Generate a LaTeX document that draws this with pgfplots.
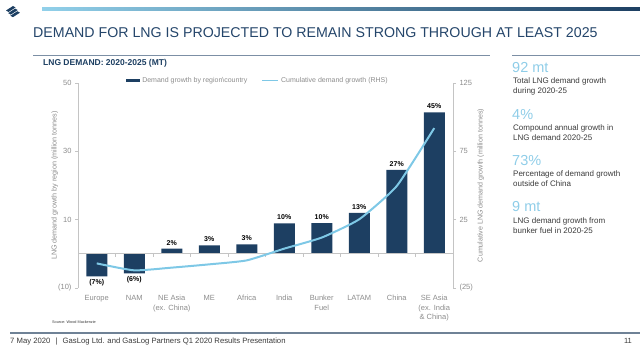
\documentclass[border=0pt]{standalone}
\usepackage{pgfplots}
\pgfplotsset{compat=1.18}
\usepackage{fontspec}
\setmainfont{Liberation Sans}
\definecolor{navy}{HTML}{1D3F62}
\definecolor{lblue}{HTML}{7EC8E6}
\definecolor{axgray}{HTML}{C4C4C4}
\definecolor{tgray}{HTML}{8C8C8C}
\definecolor{titleblue}{HTML}{24456A}
\definecolor{bignum}{HTML}{8FCDE8}
\definecolor{dtext}{HTML}{3A3A3A}
\definecolor{footline}{HTML}{6F8296}

\pgfplotstableread{
x  y     lab
2  1.5   {2\%}
3  2.5   {3\%}
4  2.8   {3\%}
5  8.9   {10\%}
6  9.0   {10\%}
7  12.0  {13\%}
8  24.6  {27\%}
9  41.4  {45\%}
}\posbars
\pgfplotstableread{
x  y     lab
0  -6.6  {(7\%)}
1  -5.7  {(6\%)}
}\negbars

\newcommand{\rtext}[2]{\node[anchor=base west, inner sep=0pt, text=dtext, font=\fontsize{8}{10}\selectfont] at (513,#1) {#2};}
\newcommand{\btext}[2]{\node[anchor=base west, inner sep=0pt, text=bignum, font=\fontsize{14.5}{16}\selectfont] at (512,#1) {#2};}

\begin{document}
\begin{tikzpicture}[x=1pt,y=1pt]
\useasboundingbox (0,0) rectangle (640,350);
% logo
\foreach \i in {0,1,2} {
  \fill[navy] ({6+2.2*\i},{339.5-2.6*\i}) -- ({13+2.2*\i},{344-2.6*\i}) -- ({15.5+2.2*\i},{342.5-2.6*\i}) -- ({8.5+2.2*\i},{338-2.6*\i}) -- cycle;
}
% header gradient bar
\shade[left color=lblue!85, right color=navy] (42,339) rectangle (640,342);
% title
\node[anchor=base west, inner sep=0pt, text=titleblue, font=\fontsize{14.2}{16}\selectfont] at (33,312) {DEMAND FOR LNG IS PROJECTED TO REMAIN STRONG THROUGH AT LEAST 2025};
\draw[titleblue!60, line width=0.6pt] (33,295) -- (490,295);
\draw[titleblue!60, line width=0.6pt] (512,295) -- (640,295);
% subtitle
\node[anchor=base west, inner sep=0pt, text=navy, font=\bfseries\fontsize{8.5}{10}\selectfont] at (43,284) {LNG DEMAND: 2020-2025 (MT)};

% right panel
\btext{277.3}{92 mt}
\rtext{266}{Total LNG demand growth}
\rtext{256}{during 2020-25}
\btext{230}{4\%}
\rtext{219.4}{Compound annual growth in}
\rtext{209.4}{LNG demand 2020-25}
\btext{184}{73\%}
\rtext{173}{Percentage of demand growth}
\rtext{163}{outside of China}
\btext{138.3}{9 mt}
\rtext{126.4}{LNG demand growth from}
\rtext{116.4}{bunker fuel in 2020-25}

% footer
\node[anchor=base west, inner sep=0pt, text=dtext, font=\fontsize{3.8}{4}\selectfont] at (52,26) {Source: Wood Mackenzie};
\draw[footline, line width=1.3pt] (10,17) -- (640,17);
\node[anchor=base west, inner sep=0pt, text=dtext, font=\fontsize{7.7}{9}\selectfont] at (10,6) {7 May 2020\enspace\,|\enspace\,GasLog Ltd. and GasLog Partners Q1 2020 Results Presentation};
\node[anchor=base east, inner sep=0pt, text=dtext, font=\fontsize{7.5}{9}\selectfont] at (632,6) {11};

% ---------- bar axis (left) ----------
\begin{axis}[
  at={(78pt,62pt)}, anchor=south west, scale only axis,
  width=375pt, height=205pt,
  xmin=-0.5, xmax=9.5, ymin=-10, ymax=50,
  ytick={-10,10,30,50}, yticklabels={(10),10,30,50},
  xtick={0,...,9},
  xticklabels={Europe,NAM,{NE Asia\\(ex. China)},ME,Africa,India,{Bunker\\Fuel},LATAM,China,{SE Asia\\(ex. India\\\& China)}},
  separate axis lines,
  x axis line style={draw=none},
  axis y line*=left,
  y axis line style={axgray, line width=0.8pt, -},
  xtick style={draw=none},
  ytick style={axgray, line width=0.6pt},
  tick align=outside, major tick length=3pt,
  tick label style={font=\fontsize{7.5}{9.5}\selectfont, text=tgray},
  xticklabel style={align=center, anchor=north, yshift=-1pt},
  /pgf/number format/assume math mode=true,
  every axis y label/.style={at={(axis description cs:-0.062,0.5)}, rotate=90, anchor=center, font=\fontsize{7.2}{8}\selectfont, text=tgray},
  ylabel={LNG demand growth by region (million tonnes)},
  ybar, bar width=21pt, bar shift=0pt,
  nodes near coords,
  point meta=explicit symbolic,
  every node near coord/.append style={font=\bfseries\fontsize{7}{8}\selectfont, text=black},
  clip=false,
  legend columns=2,
  legend style={draw=none, fill=none, at={(axis description cs:0.48,1.012)}, anchor=center,
    font=\fontsize{7}{8}\selectfont, text=tgray,
    /tikz/every even column/.append style={column sep=12pt}},
]
\addplot[fill=navy, draw=none,
  legend image code/.code={\fill[navy] (0pt,-1.6pt) rectangle (14pt,1.6pt);}]
  table[x=x, y=y, meta=lab] {\posbars};
\addlegendentry{Demand growth by region\textbackslash country}
\addlegendimage{legend image code/.code={\draw[lblue, line width=1.8pt] (0pt,0pt) -- (16pt,0pt);}}
\addlegendentry{Cumulative demand growth (RHS)}
\addplot[fill=navy, draw=none, forget plot,
  every node near coord/.append style={anchor=north}]
  table[x=x, y=y, meta=lab] {\negbars};
\draw[axgray, line width=0.8pt] (axis cs:-0.5,0) -- (axis cs:9.5,0);
\pgfplotsinvokeforeach{0.5,1.5,2.5,3.5,4.5,5.5,6.5,7.5,8.5}{
  \draw[axgray, line width=0.6pt] (axis cs:#1,0) -- ++(0pt,-3pt);
}
\end{axis}

% ---------- cumulative axis (right) ----------
\begin{axis}[
  at={(78pt,62pt)}, anchor=south west, scale only axis,
  width=375pt, height=205pt,
  xmin=-0.5, xmax=9.5, ymin=-25, ymax=125,
  ytick={-25,25,75,125}, yticklabels={(25),25,75,125},
  axis x line=none,
  axis y line*=right,
  y axis line style={axgray, line width=0.8pt, -},
  ytick style={axgray, line width=0.6pt},
  tick align=outside, major tick length=3pt,
  tick label style={font=\fontsize{7.5}{9.5}\selectfont, text=tgray},
  /pgf/number format/assume math mode=true,
  every axis y label/.style={at={(axis description cs:1.074,0.5)}, rotate=90, anchor=center, font=\fontsize{7.1}{8}\selectfont, text=tgray},
  ylabel={Cumulative LNG demand growth (million tonnes)},
  clip=false,
]
\addplot[lblue, line width=2pt, smooth, tension=0.3] coordinates {
(0,-7.0) (1,-12.1) (2,-10.1) (3,-7.7) (4,-4.8) (5,3.8) (6,11.9) (7,25.3) (8,49.6) (9,92)
};
\end{axis}
\end{tikzpicture}
\end{document}
